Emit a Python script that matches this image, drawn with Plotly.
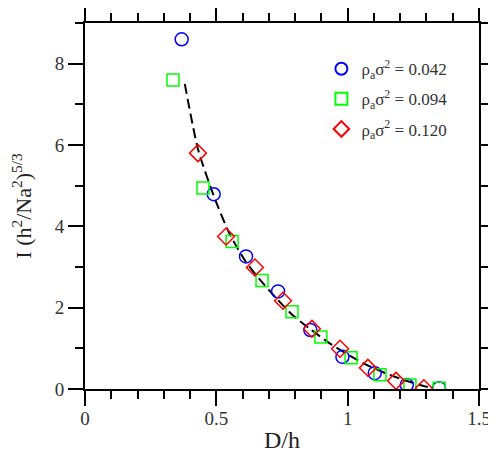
import plotly.graph_objects as go

# data
x_042 = [0.368, 0.490, 0.613, 0.735, 0.858, 0.980, 1.103, 1.225, 1.348]
y_042 = [8.60, 4.79, 3.26, 2.40, 1.45, 0.79, 0.39, 0.10, 0.02]

x_094 = [0.335, 0.449, 0.560, 0.674, 0.788, 0.898, 1.013, 1.123, 1.237, 1.348]
y_094 = [7.60, 4.94, 3.63, 2.67, 1.90, 1.28, 0.77, 0.35, 0.10, 0.02]

x_120 = [0.430, 0.537, 0.647, 0.754, 0.864, 0.971, 1.077, 1.184, 1.290]
y_120 = [5.80, 3.75, 2.99, 2.17, 1.48, 0.99, 0.52, 0.20, 0.02]

# dashed curve
x_fit = [0.38, 0.43, 0.49, 0.55, 0.61, 0.67, 0.73, 0.79, 0.86, 0.93, 1.00,
         1.07, 1.14, 1.21, 1.27, 1.31]
y_fit = [7.5, 5.9, 4.75, 3.82, 3.15, 2.66, 2.22, 1.82, 1.46, 1.13, 0.85,
         0.60, 0.40, 0.23, 0.11, 0.04]

names = ["ρ<sub>a</sub>σ<sup>2</sup> = 0.042",
         "ρ<sub>a</sub>σ<sup>2</sup> = 0.094",
         "ρ<sub>a</sub>σ<sup>2</sup> = 0.120"]

FONT = "Liberation Serif, Times New Roman, serif"

fig = go.Figure()

fig.add_trace(go.Scatter(x=x_fit, y=y_fit, mode="lines", showlegend=False,
                         line=dict(color="black", width=2, dash="10px,5px",
                                   shape="spline", smoothing=0.6)))

# markers
fig.add_trace(go.Scatter(x=x_042, y=y_042, mode="markers", name=names[0], legendgroup="a",
                         marker=dict(symbol="circle-open", size=13, color="#0000ff",
                                     line=dict(width=1.5, color="#0000ff"))))
fig.add_trace(go.Scatter(x=x_094, y=y_094, mode="markers", name=names[1], legendgroup="b",
                         marker=dict(symbol="square-open", size=12, color="#00ff00",
                                     line=dict(width=1.5, color="#00ff00"))))
fig.add_trace(go.Scatter(x=x_120, y=y_120, mode="markers", name=names[2], legendgroup="c",
                         marker=dict(symbol="diamond-open", size=13, color="#ff0000",
                                     line=dict(width=1.5, color="#ff0000"))))

axis_common = dict(showline=True, linecolor="black", linewidth=2, mirror="ticks",
                   ticks="outside", tickwidth=2, tickcolor="black", ticklen=15,
                   showgrid=False, zeroline=False, automargin=False,
                   tickfont=dict(family=FONT, size=19, color="#333333"))

fig.update_xaxes(range=[0, 1.5], dtick=0.5, tick0=0, ticklabelstandoff=-4,
                 minor=dict(dtick=0.1, ticklen=8, tickwidth=2, tickcolor="black", ticks="outside"),
                 title=dict(text="D/h", font=dict(family=FONT, size=24, color="#222222"), standoff=12),
                 **axis_common)
fig.update_yaxes(range=[0, 9], dtick=2, tick0=0,
                 minor=dict(dtick=1, ticklen=8, tickwidth=2, tickcolor="black", ticks="outside"),
                 title=dict(text="I (h<sup>2</sup>/Na<sup>2</sup>)<sup>5/3</sup>",
                            font=dict(family=FONT, size=22, color="#222222"), standoff=22),
                 **axis_common)

# page body adds 8px on the top and left, so the figure is a bit smaller
fig.update_layout(
    width=488, height=445,
    margin=dict(l=77, r=17, t=15, b=64),
    paper_bgcolor="white", plot_bgcolor="white",
    font=dict(family=FONT, size=17, color="#333333"),
    legend=dict(x=0.6, y=0.923, xanchor="left", yanchor="top",
                bgcolor="rgba(0,0,0,0)", font=dict(family=FONT, size=17, color="#333333"),
                tracegroupgap=5, itemsizing="constant"),
)

fig.write_html("out.html")
